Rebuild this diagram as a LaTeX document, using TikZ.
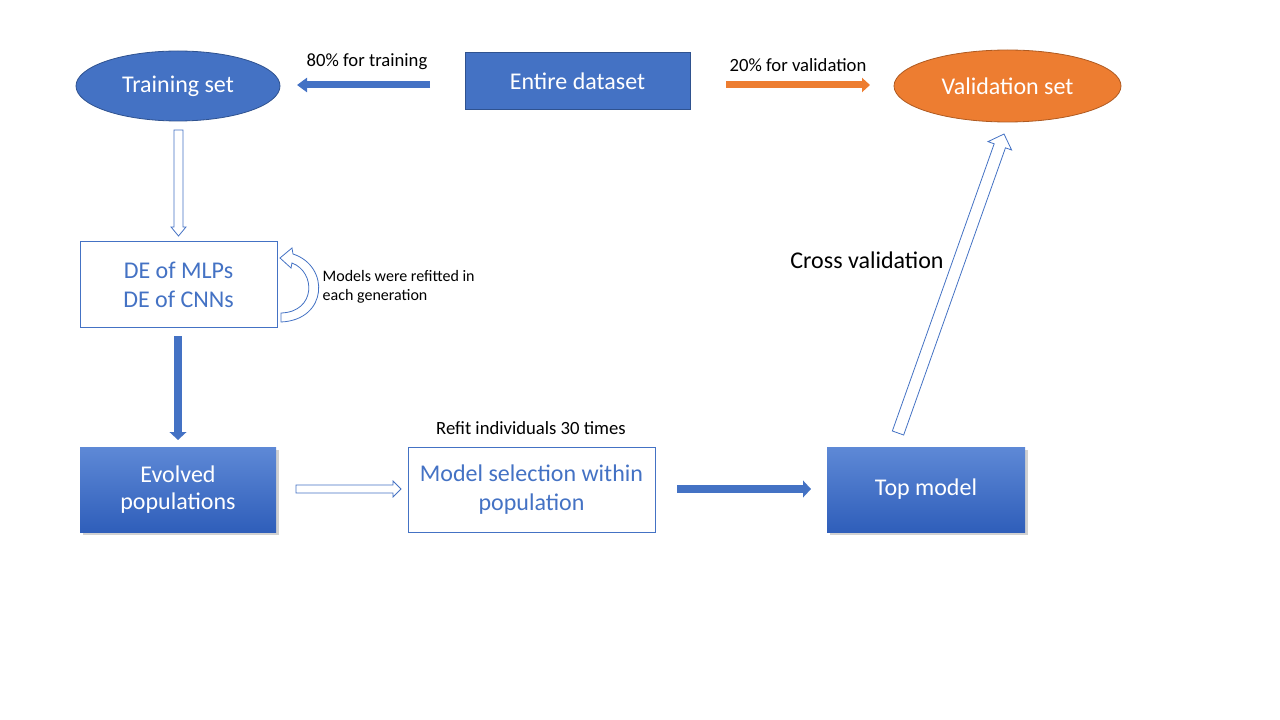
\documentclass[tikz,border=0pt]{standalone}
\usepackage{fontspec}
\setmainfont{Carlito}
\usepackage{tikz}
\usetikzlibrary{shapes.geometric,arrows.meta,calc,shadows}

\definecolor{pptblue}{HTML}{4472C4}
\definecolor{pptdark}{HTML}{2F528F}
\definecolor{pptorange}{HTML}{ED7D31}
\definecolor{orangedark}{HTML}{AE5A21}
\definecolor{gradtop}{HTML}{5E89D6}
\definecolor{gradbot}{HTML}{2F5EBA}

% hollow block arrow: from, to, half shaft, half head, head length
\newcommand{\hollowarrow}[5]{%
	\coordinate (hb) at ($(#2)!#5!(#1)$);
	\draw[hollowline] ($(#1)!#3!90:(#2)$) -- ($(hb)!#3!90:(#2)$) -- ($(hb)!#4!90:(#2)$) -- (#2)
		-- ($(hb)!#4!-90:(#2)$) -- ($(hb)!#3!-90:(#2)$) -- ($(#1)!#3!-90:(#2)$) -- cycle;
}

\begin{document}
\begin{tikzpicture}[x=0.75pt,y=-0.75pt,
	bigtext/.style={font=\fontsize{18}{21.6}\selectfont},
	midtext/.style={font=\fontsize{14}{16.8}\selectfont},
	smalltext/.style={font=\fontsize{12}{14.4}\selectfont},
	bluebox/.style={rectangle, draw=pptblue, line width=0.75pt, fill=white, text=pptblue, align=center, bigtext, inner sep=0pt},
	gradbox/.style={rectangle, top color=gradtop, bottom color=gradbot, text=white, align=center, bigtext, inner sep=0pt,
		drop shadow={shadow xshift=2pt, shadow yshift=-2pt, opacity=0.3, fill=black!60}},
	hollowline/.style={draw=pptblue, line width=0.6pt, fill=white, line join=miter},
	solidarrow/.style={line width=6pt, pptblue, -{Triangle[length=6pt, width=12.5pt]}}]

	\useasboundingbox (0,0) rectangle (1280,720);

	% Top row
	\node[ellipse, fill=pptblue, draw=pptdark, line width=0.6pt, minimum width=153pt, minimum height=52.5pt,
		text=white, bigtext] (train) at (178,86) {\raisebox{-1.5pt}{Training set}};
	\node[rectangle, fill=pptblue, draw=pptdark, line width=0.75pt, minimum width=168.75pt, minimum height=42.75pt,
		text=white, bigtext] (entire) at (577.5,81.5) {Entire dataset};
	\node[ellipse, fill=pptorange, draw=orangedark, line width=0.6pt, minimum width=170.25pt, minimum height=54pt,
		text=white, bigtext] (valid) at (1007.5,86) {\raisebox{-1pt}{Validation set}};

	% Left column and bottom row
	\node[bluebox, minimum width=147.75pt, minimum height=63.75pt] (de) at (178.5,284.5) {DE of MLPs\\DE of CNNs};
	\node[gradbox, minimum width=147pt, minimum height=63.75pt] (evolved) at (178,489.5) {\raisebox{-1.5pt}{Evolved}\\populations};
	\node[bluebox, minimum width=185.25pt, minimum height=63.75pt] (modelsel) at (531.5,489.5) {Model selection within\\population};
	\node[gradbox, minimum width=148.5pt, minimum height=63.75pt] (top) at (926,489.5) {\raisebox{-1.5pt}{Top model}};

	% Labels
	\node[midtext] (lbltrain) at (367,62) {80\% for training};
	\node[midtext] (lblvalid) at (798,65) {20\% for validation};
	\node[midtext] (lblrefit) at (531,428) {Refit individuals 30 times};
	\node[bigtext] (lblcross) at (867,260) {Cross validation};
	\node[smalltext, anchor=west, align=left] (lblgen) at (318,287) {Models were refitted in\\each generation};

	% Arrow end points
	\coordinate (trainfrom) at (430,85);
	\coordinate (trainto) at (297,85);
	\coordinate (validfrom) at (726,85);
	\coordinate (validto) at (870,85);
	\coordinate (defrom) at (178.5,130);
	\coordinate (deto) at (178.5,236);
	\coordinate (evofrom) at (178,336);
	\coordinate (evoto) at (178,440);
	\coordinate (selfrom) at (296,489);
	\coordinate (selto) at (401,489);
	\coordinate (topfrom) at (677,489);
	\coordinate (topto) at (811,489);
	\coordinate (crossfrom) at (898,433);
	\coordinate (crossto) at (1004,134);

	% Split of the dataset
	\draw[line width=5.25pt, pptblue, -{Triangle[length=7.5pt, width=10.5pt]}] (trainfrom) -- (trainto);
	\draw[line width=5.25pt, pptorange, -{Triangle[length=6pt, width=10.5pt]}] (validfrom) -- (validto);

	% Hollow arrows
	\hollowarrow{defrom}{deto}{3.4pt}{5.6pt}{6.75pt}
	\hollowarrow{selfrom}{selto}{3pt}{6pt}{6pt}
	\hollowarrow{crossfrom}{crossto}{4.5pt}{9.4pt}{9.4pt}

	% Solid arrows
	\draw[solidarrow] (evofrom) -- (evoto);
	\draw[solidarrow] (topfrom) -- (topto);

	% Curved arrow for refitting
	\draw[hollowline] (281,322) .. controls (328,320) and (330,266) .. (293,254) -- (292,248) -- (280,258)
		-- (291,268) -- (292,263) .. controls (316,272) and (316,312) .. (281,313) -- cycle;

\end{tikzpicture}
\end{document}
